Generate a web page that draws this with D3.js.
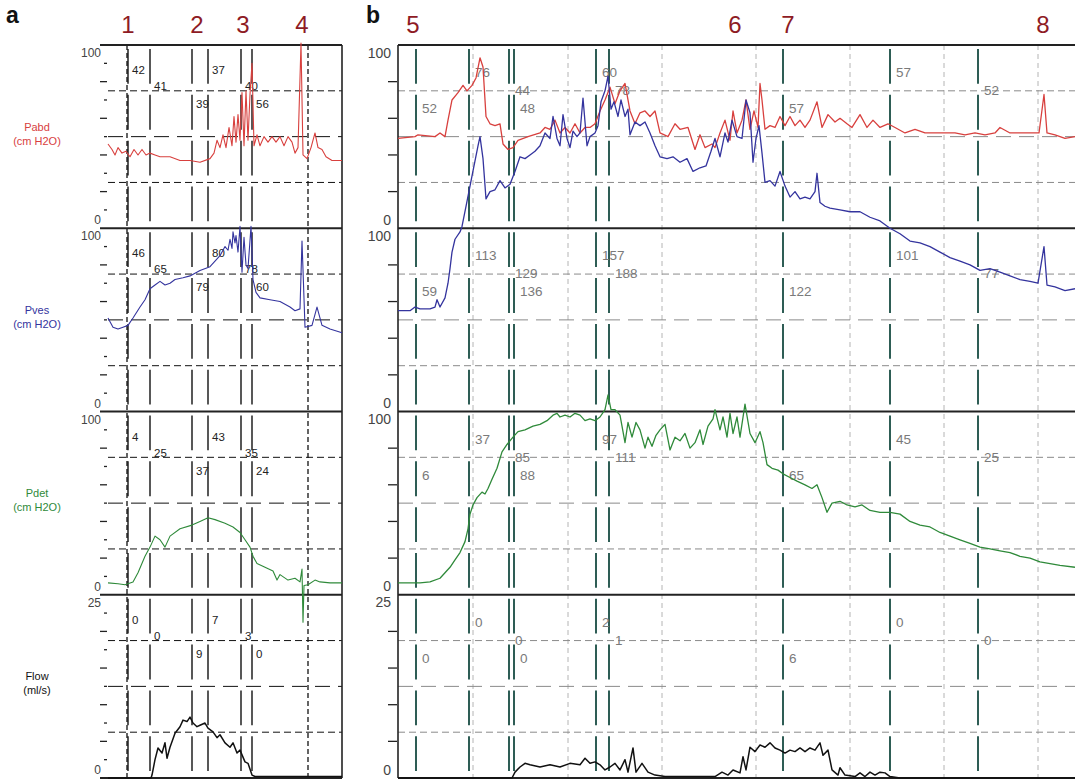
<!DOCTYPE html>
<html>
<head>
<meta charset="utf-8">
<script src="https://cdn.jsdelivr.net/npm/d3@7"></script>
<style>
  body { margin: 0; background: #fff; }
  svg { display: block; }
  text { font-family: Arial, "Liberation Sans", sans-serif; }
</style>
</head>
<body>
<svg id="chart"></svg>
<script>
// Channels (rows of both panels)
const channelNames = ["Pabd", "Pves", "Pdet", "Flow"];
const channelUnits = ["(cm H2O)", "(cm H2O)", "(cm H2O)", "(ml/s)"];
const channelMax = [100, 100, 100, 25];
const channelColors = ["#d8403e", "#34349e", "#2f8a3a", "#111"];

// Panel a: time in s, [t, value]
const pabdA = [[0,46],[4,43],[7,40],[10,44],[14,41],[18,42],[22,39],[26,43],[30,40],[34,43],[38,40],[42,41],[47,40],[52,39],[62,39],[72,37],[82,37],[92,36],[102,38],[106,41],[109,48],[112,44],[115,51],[118,44],[121,55],[124,45],[126,61],[128,47],[130,62],[132,48],[134,74],[136,45],[138,75],[140,48],[142,73],[144,90],[146,45],[149,51],[152,45],[156,50],[160,47],[164,50],[168,47],[172,50],[176,45],[180,50],[184,47],[187,41],[190,44],[193,101],[195,40],[199,38],[203,44],[207,52],[210,44],[214,43],[218,39],[224,37],[234,37]];
const pvesA = [[0,51],[5,46],[10,45],[15,46],[20,47],[25,51],[32,57],[37,61],[42,67],[47,69],[52,71],[57,69],[62,70],[67,72],[75,73],[82,74],[92,77],[102,79],[107,82],[112,85],[117,90],[120,88],[122,94],[124,89],[125,98],[127,92],[128,96],[130,87],[132,101],[134,76],[136,95],[138,80],[140,78],[143,101],[145,72],[148,65],[152,62],[162,61],[172,60],[182,57],[187,55],[192,56],[194,93],[197,46],[204,47],[209,57],[214,47],[222,45],[234,43]];
const pdetA = [[0,6.5],[10,6],[17,5.5],[25,7],[30,12],[37,21],[42,26],[47,32],[52,30],[57,26],[62,32],[72,36],[84,38],[92,40],[100,42],[107,41],[117,39],[125,37],[132,34],[137,30],[142,26],[145,21],[149,17],[157,15],[165,13],[169,8],[172,11],[180,8],[187,9],[192,7],[194,14],[195,-15],[196,5],[200,5.5],[207,8],[212,7],[222,6.5],[234,6.5]];
const flowA = [[0,0],[43,0],[44,0.4],[47,2.5],[50,4.1],[54,3.4],[57,4.8],[59,2.7],[62,4.2],[67,6.1],[72,7],[75,7.9],[79,7.7],[82,8.3],[85,7.5],[89,7],[92,7.2],[97,7.5],[100,6.8],[105,6.3],[109,5.5],[112,5.9],[117,4.8],[122,4.2],[125,4.8],[129,3.4],[132,3.8],[137,2.2],[140,2],[144,0.4],[147,0.2],[234,0.2]];

const cursorsA = [20, 42, 84, 100, 133, 144];
const rowsA = [0, 1, 2, 0, 1, 2];
const pabdValsA = [42, 41, 39, 37, 40, 56];
const pvesValsA = [46, 65, 79, 80, 78, 60];
const pdetValsA = [4, 25, 37, 43, 35, 24];
const flowValsA = [0, 0, 9, 7, 3, 0];
const eventLabelsA = ["1", "2", "3", "4"];
const eventTimesA = [20, 89, 135, 194];
const eventLinesA = [19, 200];

// Panel b
const pabdB = [[0,49],[17,50],[20,51],[37,50],[42,52],[47,50],[50,59],[54,70],[60,74],[65,78],[69,75],[74,78],[78,82],[82,93],[85,88],[88,61],[92,57],[97,56],[102,57],[105,46],[110,43],[115,44],[120,48],[130,50],[142,52],[147,55],[152,54],[157,59],[162,52],[167,55],[172,52],[177,57],[182,52],[187,55],[192,55],[197,57],[202,64],[207,70],[212,77],[217,68],[222,75],[227,79],[232,64],[237,57],[242,63],[247,64],[252,61],[257,64],[262,52],[270,50],[277,57],[282,54],[290,55],[297,43],[302,51],[307,44],[314,46],[317,44],[322,52],[327,59],[332,48],[335,64],[339,52],[344,59],[348,70],[352,54],[356,64],[360,55],[362,79],[364,70],[367,54],[372,56],[377,55],[382,61],[387,56],[392,61],[397,56],[402,59],[407,55],[412,59],[419,69],[424,55],[430,62],[437,58],[442,60],[449,57],[454,55],[462,62],[469,55],[475,59],[482,55],[490,57],[497,55],[507,52],[517,54],[527,52],[537,52],[547,52],[557,52],[567,51],[577,52],[587,51],[597,52],[602,55],[612,52],[622,52],[632,52],[641,52],[646,73],[649,52],[657,51],[667,49],[677,50]];
const pvesB = [[0,55],[12,55],[17,57],[22,56],[32,56],[37,57],[39,61],[42,57],[47,62],[50,70],[52,78],[54,87],[57,94],[62,98],[64,101],[68,112],[72,123],[76,134],[80,145],[82,150],[85,138],[88,116],[92,120],[97,121],[102,126],[107,122],[112,124],[117,131],[122,139],[127,138],[132,140],[137,142],[142,145],[147,152],[152,149],[155,161],[159,149],[162,145],[165,162],[169,149],[172,144],[175,153],[179,150],[182,152],[185,171],[189,145],[192,150],[197,152],[200,156],[203,169],[207,175],[210,183],[213,165],[216,169],[220,161],[223,170],[227,161],[230,165],[232,151],[237,158],[242,156],[247,158],[252,152],[257,145],[262,139],[269,138],[275,139],[282,136],[289,138],[295,131],[302,133],[308,134],[313,142],[317,149],[322,139],[327,152],[330,147],[334,159],[339,150],[344,149],[348,170],[352,163],[355,136],[358,149],[361,156],[364,141],[367,125],[372,126],[377,123],[382,131],[387,123],[392,117],[397,120],[402,116],[407,117],[412,116],[417,120],[419,130],[422,114],[427,112],[432,111],[442,110],[452,109],[462,109],[472,106],[482,104],[492,100],[502,97],[512,93],[522,92],[532,90],[542,87],[552,84],[562,82],[572,80],[582,77],[592,78],[602,76],[612,74],[622,72],[632,71],[640,70],[646,90],[649,69],[657,68],[667,66],[677,67]];
const pdetB = [[0,6.5],[22,6.5],[32,7],[42,9],[47,12],[52,15],[57,19],[62,23],[67,29],[70,36],[72,44],[75,49],[79,53],[84,56],[87,55],[90,58],[94,63],[99,69],[104,78],[109,82],[115,86],[120,89],[127,90],[135,92],[142,93],[149,95],[155,98],[159,99],[162,97],[167,98],[172,97],[177,99],[182,98],[187,95],[192,96],[197,95],[202,97],[207,101],[210,109],[213,101],[217,101],[222,98],[227,83],[230,94],[234,86],[238,94],[242,90],[247,80],[250,86],[254,81],[258,87],[262,90],[267,93],[272,79],[277,86],[282,84],[287,88],[292,80],[297,83],[302,90],[305,82],[310,92],[315,96],[317,101],[322,90],[325,97],[329,86],[332,99],[335,88],[339,97],[342,86],[347,104],[352,88],[357,83],[362,89],[365,83],[369,71],[374,69],[380,68],[385,66],[392,64],[399,62],[407,60],[414,58],[419,60],[424,53],[429,45],[434,50],[442,51],[449,49],[457,48],[464,49],[472,46],[482,45],[492,45],[502,44],[512,40],[522,38],[532,37],[542,34],[552,32],[562,30],[572,28],[582,26],[592,25],[602,24],[612,23],[622,21],[632,20],[642,18],[652,17],[662,16],[677,15]];
const flowB = [[0,0],[114,0],[117,0.8],[122,1.5],[127,2],[132,1.8],[142,1.5],[152,1.8],[162,1.5],[172,2],[182,1.8],[187,2.7],[192,2],[197,2.2],[202,1.8],[207,1.1],[212,1.5],[217,2],[222,1.1],[227,2.5],[230,0.8],[235,4.1],[238,0.8],[244,2],[250,0.8],[257,0.4],[267,0.2],[317,0.2],[324,0.8],[330,0.4],[335,1.1],[342,0.7],[345,2.9],[348,1.1],[352,4.2],[357,3.6],[362,4.5],[367,4.2],[372,4.8],[377,4.1],[382,3.8],[387,3.4],[392,3.8],[397,3.6],[402,4.1],[407,3.6],[412,4.1],[417,3.8],[422,4.8],[425,3.1],[430,3.8],[434,1.1],[440,0.4],[442,1.4],[447,0.4],[457,0.2],[462,0.7],[467,0.2],[472,0.8],[477,0.4],[482,0.8],[487,0.7],[492,0.2],[502,0],[677,0]];

const cursorsB = [18, 71, 111, 116, 198, 211, 385, 492, 580];
const rowsB = [2, 0, 1, 2, 0, 1, 2, 0, 1];
const pabdValsB = [52, 76, 44, 48, 60, 78, 57, 57, 52];
const pvesValsB = [59, 113, 129, 136, 157, 188, 122, 101, 77];
const pdetValsB = [6, 37, 85, 88, 97, 111, 65, 45, 25];
const flowValsB = [0, 0, 0, 0, 2, 1, 6, 0, 0];
const eventLabelsB = ["5", "6", "7", "8"];
const eventTimesB = [15, 337, 390, 645];
const gridTimesB = [75, 170, 264, 358, 452, 546, 640];

const width = 1075, height = 780;
const svg = d3.select("#chart").attr("width", width).attr("height", height);

const trackTop = 45, trackBottom = 778;
const trackH = (trackBottom - trackTop) / 4;

function yScale(i) {
    return d3.scaleLinear().domain([0, channelMax[i]])
        .range([trackTop + (i + 1) * trackH, trackTop + i * trackH]);
}

const panels = [
    { name: "a", nameX: 6, left: 108, frameLeft: 100, right: 342, domain: [0, 234],
      traces: [pabdA, pvesA, pdetA, flowA], cursors: cursorsA, rows: rowsA,
      values: [pabdValsA, pvesValsA, pdetValsA, flowValsA],
      eventLabels: eventLabelsA, eventTimes: eventTimesA, eventLines: eventLinesA, grid: [],
      gridColor: "#111", cursorColor: "#111", cursorWidth: 1.4, labelColor: "#222", labelSize: 11.5,
      labelDx: 4, rowOffsets: [29, 45, 63], tickDiv: 10, tickSize: 12, traceWidth: 1.1 },
    { name: "b", nameX: 366, left: 398, frameLeft: 398, right: 1075, domain: [0, 677],
      traces: [pabdB, pvesB, pdetB, flowB], cursors: cursorsB, rows: rowsB,
      values: [pabdValsB, pvesValsB, pdetValsB, flowValsB],
      eventLabels: eventLabelsB, eventTimes: eventTimesB, eventLines: [], grid: gridTimesB,
      gridColor: "#8a8a8a", cursorColor: "#2e5d55", cursorWidth: 2, labelColor: "#7a7a7a", labelSize: 13.5,
      labelDx: 6, rowOffsets: [32, 50, 68], tickDiv: 5, tickSize: 14, traceWidth: 1.3 }
];

panels.forEach(p => {
    const x = d3.scaleLinear().domain(p.domain).range([p.left, p.right]);
    const g = svg.append("g").attr("class", "panel-" + p.name);

    // panel letter
    g.append("text").attr("x", p.nameX).attr("y", 23)
        .attr("font-size", 23).attr("font-weight", "bold").attr("fill", "#111").text(p.name);

    // event numbers
    g.selectAll(".event").data(p.eventTimes).enter().append("text")
        .attr("x", d => x(d)).attr("y", 33)
        .attr("text-anchor", "middle").attr("font-size", 24).attr("fill", "#8e1b24")
        .text((d, i) => p.eventLabels[i]);

    // vertical grey time grid (panel b)
    g.selectAll(".vgrid").data(p.grid).enter().append("line")
        .attr("x1", d => x(d)).attr("x2", d => x(d))
        .attr("y1", trackTop).attr("y2", trackBottom)
        .attr("stroke", "#b4b4b4").attr("stroke-width", 1).attr("stroke-dasharray", "5,4");

    channelNames.forEach((ch, i) => {
        const y = yScale(i);
        const max = channelMax[i];

        // horizontal grid at 25/50/75 %
        [0.25, 0.5, 0.75].forEach(f => {
            g.append("line")
                .attr("x1", p.left).attr("x2", p.right)
                .attr("y1", y(max * f)).attr("y2", y(max * f))
                .attr("stroke", p.gridColor).attr("stroke-width", 1)
                .attr("stroke-dasharray", f === 0.5 ? "15,8" : "7,4");
        });

        // cursor lines, broken at the grid lines
        p.cursors.forEach(c => {
            for (let q = 0; q < 4; q++) {
                const yTop = y(max * (1 - q / 4)) + 4;
                const yBot = y(max * (1 - (q + 1) / 4)) - 7;
                g.append("line")
                    .attr("x1", x(c)).attr("x2", x(c))
                    .attr("y1", yTop).attr("y2", yBot)
                    .attr("stroke", p.cursorColor).attr("stroke-width", p.cursorWidth);
            }
        });

        // tick marks on the left
        d3.range(1, p.tickDiv).forEach(k => {
            const len = p.tickDiv === 10 ? (k % 2 ? 3 : 7) : 9;
            g.append("line")
                .attr("x1", p.left - len - 1).attr("x2", p.left - 1)
                .attr("y1", y(max * k / p.tickDiv)).attr("y2", y(max * k / p.tickDiv))
                .attr("stroke", "#222").attr("stroke-width", 1.3);
        });

        // tick labels
        g.append("text").attr("x", p.left - 7).attr("y", y(max) + 9)
            .attr("text-anchor", "end").attr("dominant-baseline", "middle")
            .attr("font-size", p.tickSize).attr("fill", "#444").text(max);
        g.append("text").attr("x", p.left - 7).attr("y", y(0) - 7)
            .attr("text-anchor", "end").attr("dominant-baseline", "middle")
            .attr("font-size", p.tickSize).attr("fill", "#444").text(0);

        // cursor value labels
        p.values[i].forEach((v, j) => {
            g.append("text")
                .attr("x", x(p.cursors[j]) + p.labelDx)
                .attr("y", trackTop + i * trackH + p.rowOffsets[p.rows[j]])
                .attr("font-size", p.labelSize).attr("fill", p.labelColor).text(v);
        });
    });

    // event dashed lines (panel a)
    g.selectAll(".eline").data(p.eventLines).enter().append("line")
        .attr("x1", d => x(d)).attr("x2", d => x(d))
        .attr("y1", trackTop).attr("y2", trackBottom)
        .attr("stroke", "#111").attr("stroke-width", 1.3).attr("stroke-dasharray", "5,3");

    // frame lines between tracks
    d3.range(5).forEach(k => {
        g.append("line")
            .attr("x1", p.frameLeft).attr("x2", p.right)
            .attr("y1", trackTop + k * trackH).attr("y2", trackTop + k * trackH)
            .attr("stroke", "#222").attr("stroke-width", 2);
    });
    const edgeX = p.name === "a" ? p.right : p.left;
    g.append("line").attr("x1", edgeX).attr("x2", edgeX)
        .attr("y1", trackTop).attr("y2", trackBottom)
        .attr("stroke", "#222").attr("stroke-width", 1.6);

    // traces
    p.traces.forEach((tr, i) => {
        const y = yScale(i);
        const line = d3.line().x(d => x(d[0])).y(d => y(d[1]));
        g.append("path").datum(tr)
            .attr("d", line)
            .attr("fill", "none")
            .attr("stroke", channelColors[i])
            .attr("stroke-width", i === 3 ? 1.5 : p.traceWidth)
            .attr("stroke-linejoin", "round");
    });
});

// channel names, left of panel a
channelNames.forEach((ch, i) => {
    const yMid = trackTop + i * trackH + trackH / 2;
    const t = svg.append("text").attr("text-anchor", "middle")
        .attr("font-size", 11).attr("fill", channelColors[i]);
    t.append("tspan").attr("x", 37).attr("y", yMid - 6).text(ch);
    t.append("tspan").attr("x", 37).attr("y", yMid + 8).text(channelUnits[i]);
});
</script>
</body>
</html>
